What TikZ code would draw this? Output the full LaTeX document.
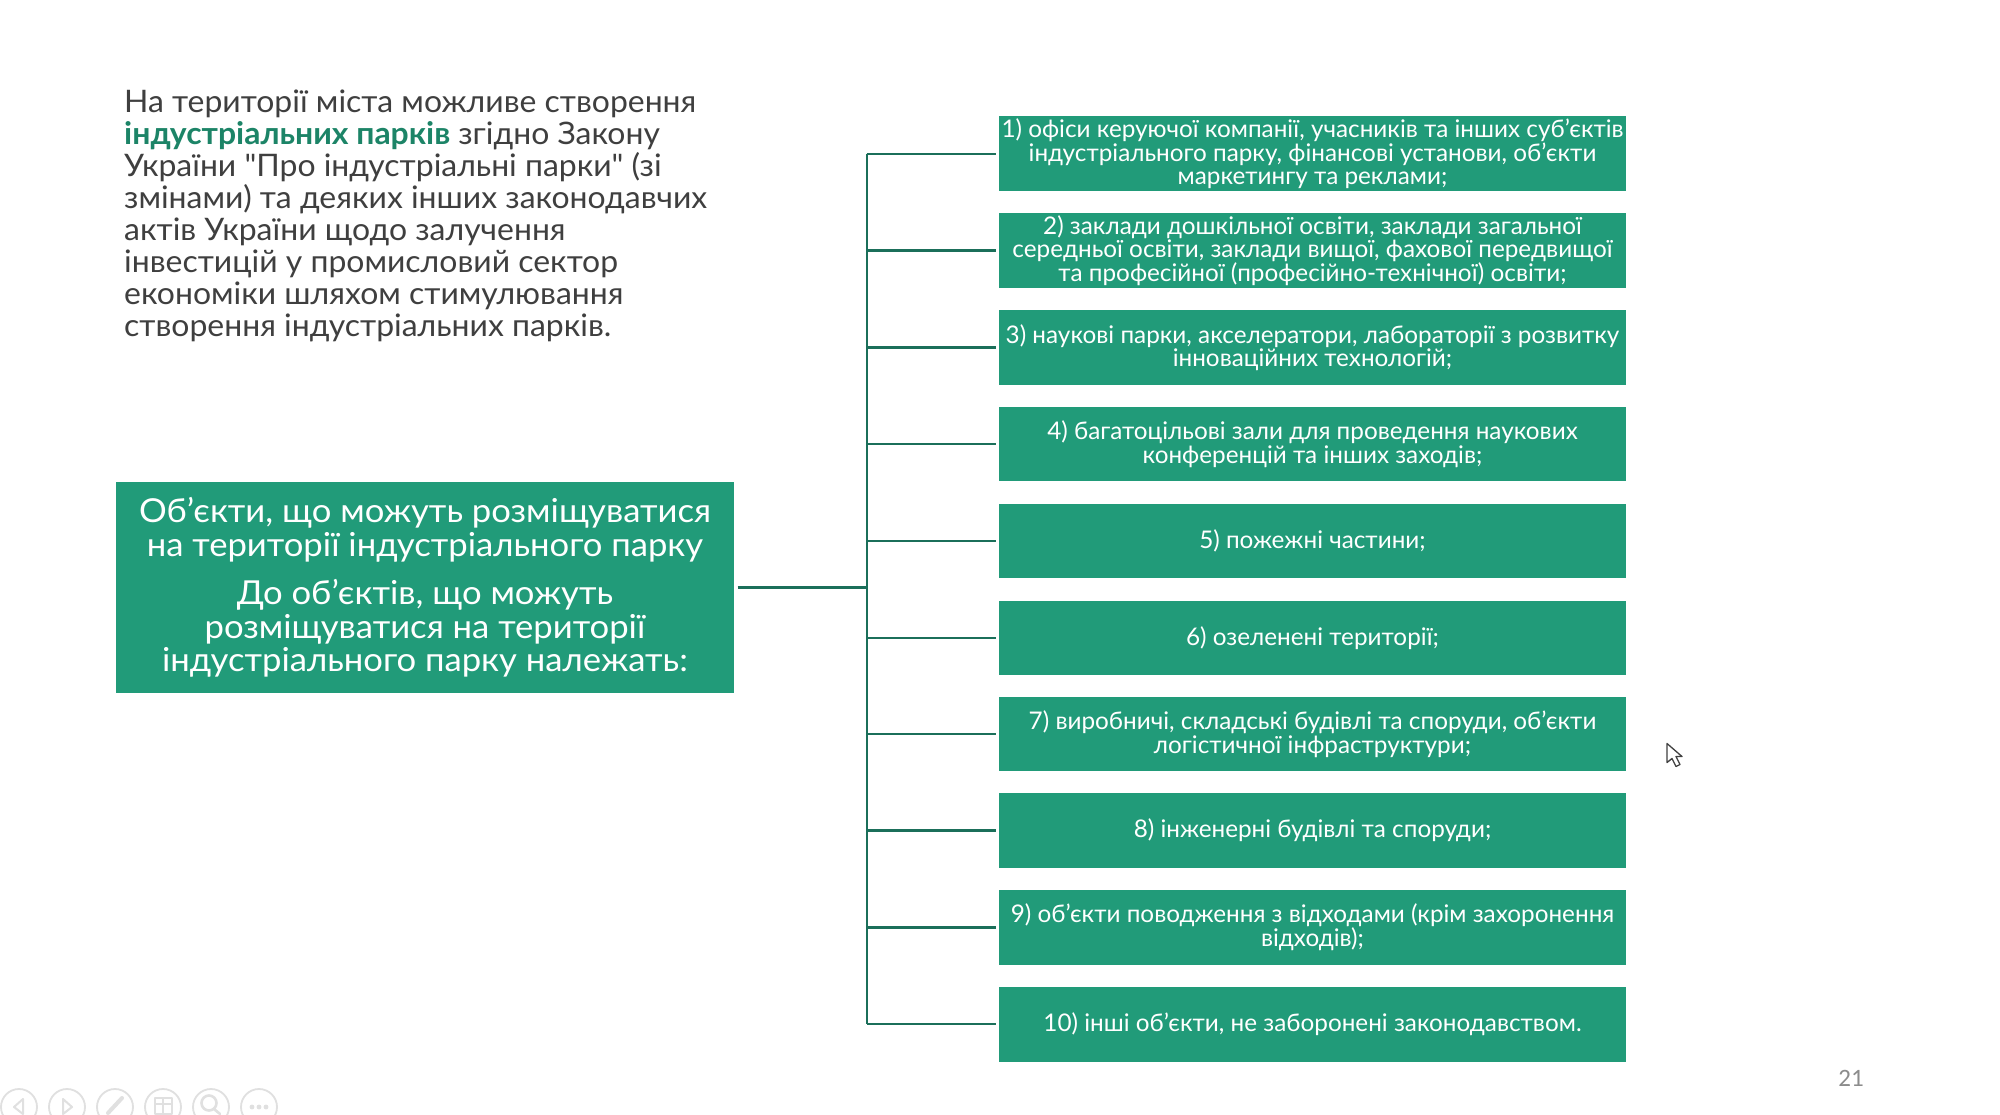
\documentclass[tikz,border=0pt]{standalone}
\usepackage{fontspec}
\newfontfamily\introfam{Lato}[FakeStretch=1.03]
\newfontfamily\mainfam{Lato}[FakeStretch=1.05]
\newfontfamily\itemfam{Lato}
\newfontfamily\numfont{Carlito}
\usetikzlibrary{calc}
\definecolor{boxgreen}{HTML}{219B79}
\definecolor{linegreen}{HTML}{1B6F5A}
\definecolor{bodygrey}{HTML}{3F3F3F}
\definecolor{navgrey}{HTML}{E0E0E0}
\newcommand{\bigf}{\introfam\fontsize{31}{32}\selectfont}
\newcommand{\midf}{\mainfam\fontsize{33}{33.8}\selectfont}
\newcommand{\smallf}{\itemfam\fontsize{24.3}{23.6}\selectfont}
\tikzset{
  x=1pt,y=-1pt,
  itembox/.style={fill=boxgreen,text=white,inner sep=0pt,align=center,minimum width=627pt,minimum height=74.6pt,anchor=center,font=\smallf},
  mainbox/.style={fill=boxgreen,text=white,inner sep=0pt,align=center,minimum width=618pt,minimum height=211pt,font=\midf},
  conn/.style={draw=linegreen,line width=2.4pt},
  nav/.style={draw=navgrey,line width=1.8pt,fill=none},
  navthin/.style={draw=navgrey,line width=2pt,line cap=round,line join=round}
}
\begin{document}
\begin{tikzpicture}
\useasboundingbox (0,0) rectangle (2000,1114);
\fill[white] (0,0) rectangle (2000,1114);

\node[anchor=north west,inner sep=0pt,align=left,text=bodygrey,font=\bigf] (intro) at (124,89.5)
{На території міста можливе створення\\
\textbf{\textcolor{boxgreen!85!black}{індустріальних парків}} згідно Закону\\
України "Про індустріальні парки" (зі\\
змінами) та деяких інших законодавчих\\
актів України щодо залучення\\
інвестицій у промисловий сектор\\
економіки шляхом стимулювання\\
створення індустріальних парків.};

\node[mainbox] (main) at (425,587.5)
{Об’єкти, що можуть розміщуватися\\
на території індустріального парку\\[14pt]
До об’єктів, що можуть\\
розміщуватися на території\\
індустріального парку належать:};

\node[itembox] (i1) at (1312.5,153.7) {1) офіси керуючої компанії, учасників та інших суб’єктів\\індустріального парку, фінансові установи, об’єкти\\маркетингу та реклами;};
\node[itembox] (i2) at (1312.5,250.6) {2) заклади дошкільної освіти, заклади загальної\\середньої освіти, заклади вищої, фахової передвищої\\та професійної (професійно-технічної) освіти;};
\node[itembox] (i3) at (1312.5,347.6) {3) наукові парки, акселератори, лабораторії з розвитку\\інноваційних технологій;};
\node[itembox] (i4) at (1312.5,443.9) {4) багатоцільові зали для проведення наукових\\конференцій та інших заходів;};
\node[itembox] (i5) at (1312.5,540.8) {5) пожежні частини;};
\node[itembox] (i6) at (1312.5,637.8) {6) озеленені території;};
\node[itembox] (i7) at (1312.5,734) {7) виробничі, складські будівлі та споруди, об’єкти\\логістичної інфраструктури;};
\node[itembox] (i8) at (1312.5,830.3) {8) інженерні будівлі та споруди;};
\node[itembox] (i9) at (1312.5,927.3) {9) об’єкти поводження з відходами (крім захоронення\\відходів);};
\node[itembox] (i10) at (1312.5,1024.2) {10) інші об’єкти, не заборонені законодавством.};

\coordinate (trunk) at (866.7,587.5);
\draw[conn,shorten <=3.5pt] (main.east) -- (trunk);
\draw[conn] (i1.west -| trunk) -- (i10.west -| trunk);
\foreach \n in {i1,i2,i3,i4,i5,i6,i7,i8,i9,i10}
  \draw[conn,shorten >=2.5pt] (\n.west -| trunk) -- (\n.west);

\node[text=black!45,inner sep=0pt,font=\numfont\fontsize{25}{25}\selectfont] (pg) at (1851,1078) {21};

% cursor
\draw[draw=black!75,fill=white,line width=1.3pt,line join=round]
  (1667,743.5) -- (1667,762.5) -- (1672,758.5) -- (1676,766.5) -- (1680,764.5) -- (1676,756.5) -- (1682,756.5) -- cycle;

% presentation navigation icons
\foreach \cx in {19,67,115,163,211,259}
  \draw[nav] (\cx,1107) circle (18);
\draw[navthin] (23,1099) -- (14,1107) -- (23,1114) -- cycle;
\draw[navthin] (63,1099) -- (72,1107) -- (63,1114) -- cycle;
\draw[navthin,line width=4pt] (108,1113) -- (122,1098);
\draw[navthin] (155,1098) rectangle (172,1114);
\draw[navthin] (155,1104) -- (172,1104) (163,1098) -- (163,1114);
\draw[navthin,line width=2.6pt] (209,1103) circle (7.5) (214,1109) -- (220,1114);
\fill[navgrey] (252,1107) circle (2.4) (259,1107) circle (2.4) (266,1107) circle (2.4);
\end{tikzpicture}
\end{document}
